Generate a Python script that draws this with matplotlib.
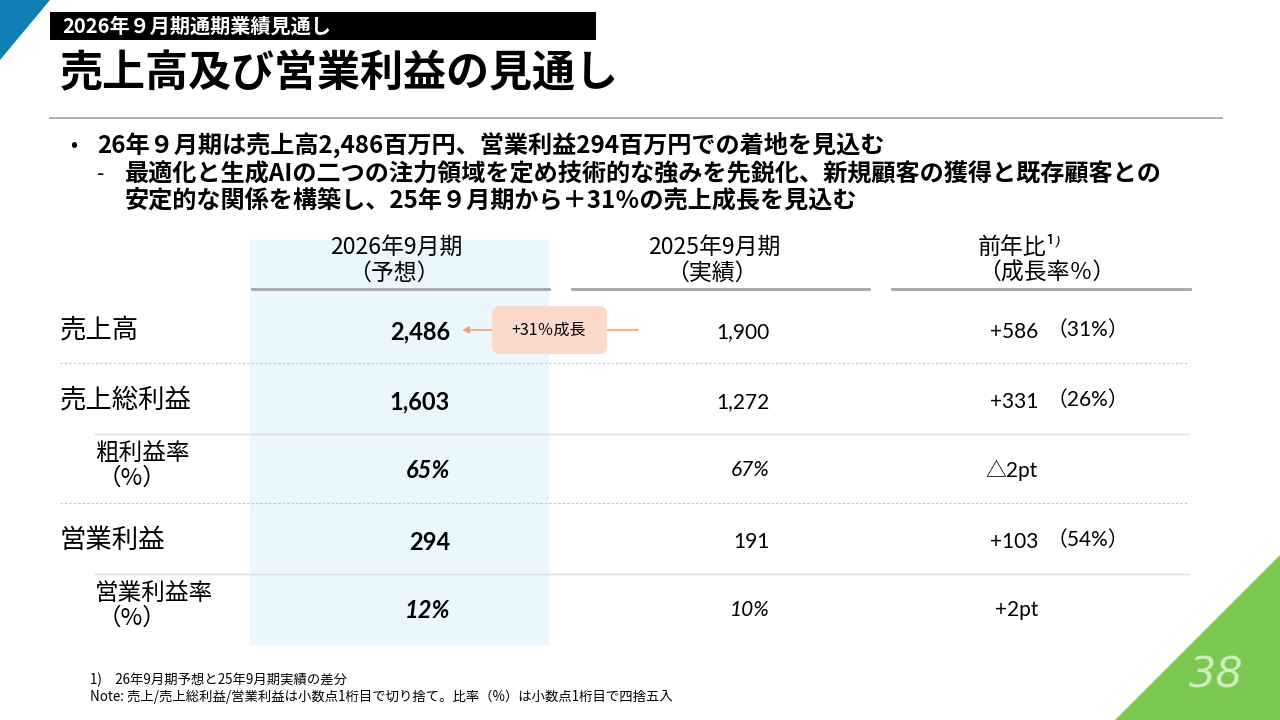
# -*- coding: utf-8 -*-
"""
売上高及び営業利益の見通し（スライド再現）
- 1280x720 のスライドを matplotlib のみで描画し out.png に保存
"""

import matplotlib.pyplot as plt
from matplotlib.patches import Polygon, Rectangle, FancyBboxPatch

JP = ['Noto Sans CJK JP', 'DejaVu Sans']
NUM = ['Lato', 'Noto Sans CJK JP', 'DejaVu Sans']
plt.rcParams['font.family'] = JP

# --------- データ ----------
metrics = ["売上高", "売上総利益", "粗利益率", "営業利益", "営業利益率"]
is_rate = [False, False, True, False, True]
fy2026_forecast = [2486, 1603, 65, 294, 12]
fy2025_actual = [1900, 1272, 67, 191, 10]
yoy_diff = [586, 331, -2, 103, 2]
yoy_growth = [31, 26, None, 54, None]
growth_callout = 31

col_headers = [("2026年9月期", "（予想）"), ("2025年9月期", "（実績）"), ("前年比¹⁾", "（成長率％）")]
section = "2026年９月期通期業績見通し"
title = "売上高及び営業利益の見通し"
bullets = [
    "26年９月期は売上高2,486百万円、営業利益294百万円での着地を見込む",
    "最適化と生成AIの二つの注力領域を定め技術的な強みを先鋭化、新規顧客の獲得と既存顧客との",
    "安定的な関係を構築し、25年９月期から＋31％の売上成長を見込む",
]
notes = [
    "1)　26年9月期予想と25年9月期実績の差分",
    "Note: 売上/売上総利益/営業利益は小数点1桁目で切り捨て。比率（%）は小数点1桁目で四捨五入",
]
page_no = "38"


def fmt_value(v, rate):
    return f"{v}%" if rate else f"{v:,}"


def fmt_diff(v, rate):
    if rate:
        return f"△{abs(v)}pt" if v < 0 else f"+{v}pt"
    return f"+{v:,}" if v >= 0 else f"△{abs(v):,}"


fig = plt.figure(figsize=(12.8, 7.2), dpi=100)
ax = fig.add_axes([0, 0, 1, 1])
ax.set_xlim(0, 1280)
ax.set_ylim(720, 0)
ax.axis('off')

# 角の飾り
ax.add_patch(Polygon([(0, 0), (50, 0), (0, 60)], closed=True, color='#0f80b6', lw=0))
ax.add_patch(Polygon([(1280, 555), (1280, 720), (1115, 720)], closed=True, color='#7dc852', lw=0))
ax.text(1216, 675, page_no, family=['DejaVu Sans'], style='oblique', fontsize=31,
        color='#cdeeb8', ha='center', va='center')

# 見出し
ax.add_patch(Rectangle((50, 12), 546, 28, color='black', lw=0))
ax.text(62, 26, section, color='white', fontsize=14.5, weight='bold', va='center')
ax.text(60, 73, title, fontsize=31, weight='bold', va='center')
ax.plot([50, 1222], [118, 118], color='#a0a0a0', lw=1.2)

# 箇条書き
ax.text(70, 145, "•", fontsize=15, va='center')
ax.text(97, 145, bullets[0], fontsize=17.4, weight='bold', va='center')
ax.text(97, 174, "-", fontsize=15, va='center')
ax.text(125, 174, bullets[1], fontsize=17.4, weight='bold', va='center')
ax.text(125, 201, bullets[2], fontsize=17.4, weight='bold', va='center')

# 予想列の背景
ax.add_patch(Rectangle((250, 240), 299, 405, color='#eaf7fc', lw=0, zorder=0))

# 列見出し
hdr_x = [396, 714, 982]
hdr_line = [(252, 549), (572, 869), (892, 1190)]
for i, (l1, l2) in enumerate(col_headers):
    italic = 'italic' if i == 2 else 'normal'
    ha = 'left' if i == 2 else 'center'
    x = 978 if i == 2 else hdr_x[i]
    ax.text(x, 247, l1, fontsize=16.5, style=italic, ha=ha, va='center')
    ax.text(x - (0 if i == 2 else 2), 273, l2, fontsize=16.5, style=italic, ha=ha, va='center')
    ax.plot(hdr_line[i], [289, 289], color='#a6a6a6', lw=2)

# 行
row_y = [330, 400, 468, 540, 608]
for i, name in enumerate(metrics):
    y = row_y[i]
    rate = is_rate[i]
    if rate:
        ax.text(95, y - 15, name, fontsize=17, style='italic', va='center')
        ax.text(98, y + 10, "（%）", fontsize=17, style='italic', va='center')
    else:
        ax.text(60, y, name, fontsize=19, va='center')
    st = 'italic' if rate else 'normal'
    ax.text(450, y + 2, fmt_value(fy2026_forecast[i], rate), family=NUM, weight='bold',
            style=st, fontsize=17, ha='right', va='center')
    ax.text(770, y + 2, fmt_value(fy2025_actual[i], rate), family=NUM, style=st,
            fontsize=15, ha='right', va='center')
    ax.text(1038, y + 2, fmt_diff(yoy_diff[i], rate), family=NUM, fontsize=15,
            ha='right', va='center')
    if yoy_growth[i] is not None:
        ax.text(1047, y, f"（{yoy_growth[i]}%）", family=NUM, fontsize=15,
                ha='left', va='center')

# 区切り線
ax.plot([60, 1189], [363, 363], color='#c4c4c4', lw=0.8, ls=(0, (2, 2)))
ax.plot([95, 1189], [434, 434], color='#dedede', lw=1)
ax.plot([60, 1189], [503, 503], color='#c4c4c4', lw=0.8, ls=(0, (2, 2)))
ax.plot([95, 1189], [574, 574], color='#dedede', lw=1)

# 成長率の吹き出し
ax.annotate('', xy=(462, 330), xytext=(638, 330),
            arrowprops=dict(arrowstyle='-|>', color='#f2a574', lw=1.2,
                            mutation_scale=10, shrinkA=0, shrinkB=0), zorder=2)
ax.add_patch(FancyBboxPatch((495, 309), 109, 42, boxstyle='round,pad=3,rounding_size=8',
                            fc='#fbdacb', ec='none', zorder=3))
ax.text(549, 330, f"+{growth_callout}％成長", fontsize=11.5, ha='center', va='center', zorder=4)

# 注記
ax.text(90, 680, notes[0], fontsize=9.6, va='center')
ax.text(90, 697, notes[1], fontsize=9.6, va='center')

fig.savefig('out.png', dpi=100)
